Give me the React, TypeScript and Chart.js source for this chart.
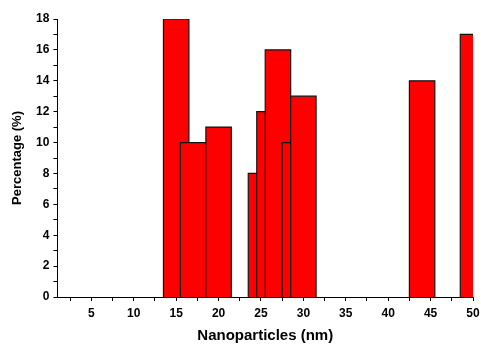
import React, { useEffect, useRef } from "react";
import { Chart, registerables } from "chart.js";

Chart.register(...registerables);

// Histogram bins: centre (nm), percentage (%)
const binCenters = [15, 17, 20, 25, 26, 27, 29, 30, 44, 50];
const percentages = [18, 10, 11, 8, 12, 16, 10, 13, 14, 17];
const binWidth = 3;

const xTickValues = [2.5, 5, 7.5, 10, 12.5, 15, 17.5, 20, 22.5, 25, 27.5, 30, 32.5, 35, 37.5, 40, 42.5, 45, 47.5, 50];
const xTickLabels = ["", "5", "", "10", "", "15", "", "20", "", "25", "", "30", "", "35", "", "40", "", "45", "", "50"];
const yTickValues = [0, 1, 2, 3, 4, 5, 6, 7, 8, 9, 10, 11, 12, 13, 14, 15, 16, 17, 18];
const yTickLabels = ["0", "", "2", "", "4", "", "6", "", "8", "", "10", "", "12", "", "14", "", "16", "", "18"];

const FONT = "'Liberation Sans', Arial, Helvetica, sans-serif";

export default function App() {
  const ref = useRef<HTMLCanvasElement | null>(null);

  useEffect(() => {
    if (!ref.current) return;
    const datasets = binCenters.map((c, i) => {
      const h = percentages[i];
      const x0 = c - binWidth / 2;
      const x1 = c + binWidth / 2;
      return {
        type: "line" as const,
        data: [
          { x: x0, y: 0 },
          { x: x0, y: h },
          { x: x1, y: h },
          { x: x1, y: 0 },
        ],
        borderColor: "#111",
        borderWidth: 1.2,
        backgroundColor: "#ff0000",
        fill: "origin",
        pointRadius: 0,
        pointHoverRadius: 0,
        tension: 0,
        order: -i,
      };
    });

    const chart = new Chart(ref.current, {
      type: "line",
      data: { datasets: datasets as any },
      options: {
        animation: false,
        responsive: false,
        maintainAspectRatio: false,
        layout: { padding: { top: 19, right: 0, left: 8, bottom: 0 } },
        plugins: {
          legend: { display: false },
          tooltip: { enabled: false },
        },
        scales: {
          x: {
            type: "linear",
            min: 1,
            max: 50,
            afterBuildTicks: (axis: any) => {
              axis.ticks = xTickValues.map((v) => ({ value: v }));
            },
            afterFit: (axis: any) => {
              axis.paddingRight = 8;
            },
            ticks: {
              autoSkip: false,
              maxRotation: 0,
              padding: 5,
              color: "#000",
              font: { family: FONT, size: 12, weight: "bold" },
              callback: (_v: any, idx: number) => xTickLabels[idx],
            },
            grid: {
              drawOnChartArea: false,
              drawTicks: true,
              tickLength: 4,
              color: "#000",
            },
            border: { display: true, color: "#000", width: 1 },
            title: {
              display: true,
              text: "Nanoparticles (nm)",
              color: "#000",
              font: { family: FONT, size: 15, weight: "bold", lineHeight: 1 },
              padding: { top: 2.6, bottom: 1 },
            },
          },
          y: {
            type: "linear",
            min: 0,
            max: 18,
            afterBuildTicks: (axis: any) => {
              axis.ticks = yTickValues.map((v) => ({ value: v }));
            },
            ticks: {
              autoSkip: false,
              padding: 4,
              color: "#000",
              font: { family: FONT, size: 12, weight: "bold" },
              callback: (_v: any, idx: number) => yTickLabels[idx],
            },
            grid: {
              drawOnChartArea: false,
              drawTicks: true,
              tickLength: 4,
              color: "#000",
            },
            border: { display: true, color: "#000", width: 1 },
            title: {
              display: true,
              text: "Percentage (%)",
              color: "#000",
              font: { family: FONT, size: 13, weight: "bold" },
              padding: { top: 2, bottom: 6.5 },
            },
          },
        },
      },
    });
    return () => chart.destroy();
  }, []);

  return (
    <div style={{ position: "fixed", left: 0, top: 0, width: 481, height: 344, background: "#fff" }}>
      <canvas ref={ref} width={481} height={344} style={{ display: "block" }} />
    </div>
  );
}
